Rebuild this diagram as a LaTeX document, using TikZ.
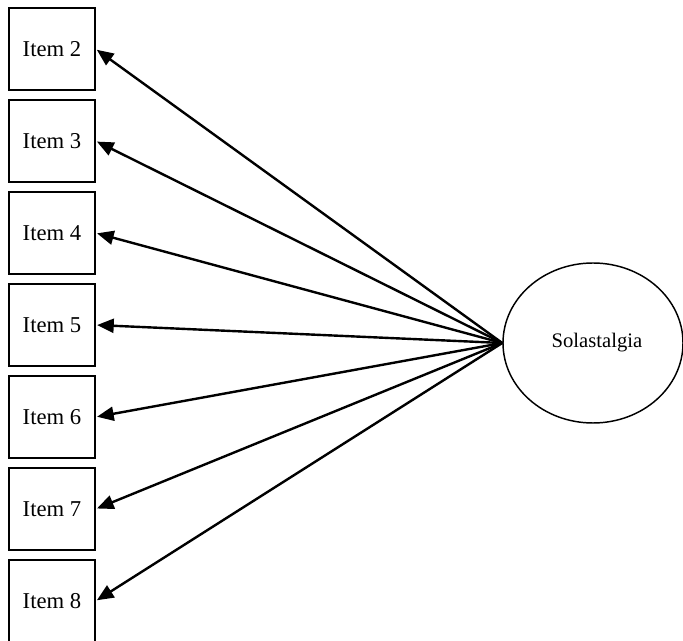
\documentclass[tikz,border=0pt]{standalone}
\usepackage{fontspec}
\setmainfont{Liberation Serif}
\usetikzlibrary{arrows.meta,shapes.geometric}
\begin{document}
\begin{tikzpicture}[x=0.75pt,y=-0.75pt,
  itembox/.style={draw,line width=1.1pt,minimum width=64.5pt,minimum height=61.5pt,inner sep=0pt,font=\fontsize{17}{20}\selectfont},
  latent/.style={draw,ellipse,line width=1.1pt,minimum width=135pt,minimum height=120pt,inner sep=0pt,font=\fontsize{15.5}{18}\selectfont},
  loading/.style={line width=1.8pt,-{Triangle[length=12.5pt,width=10.5pt]},shorten >=1pt}]
\useasboundingbox (0,0) rectangle (683,641);
\node[latent] (sol) at (593,343) {\hspace{6pt}Solastalgia};
\foreach \i [count=\k from 0] in {2,...,8}{
  \node[itembox] (item\i) at (52,{49+92*\k}) {Item \i};
  \draw[loading] (sol.west) -- (item\i.east);
}
\end{tikzpicture}
\end{document}
